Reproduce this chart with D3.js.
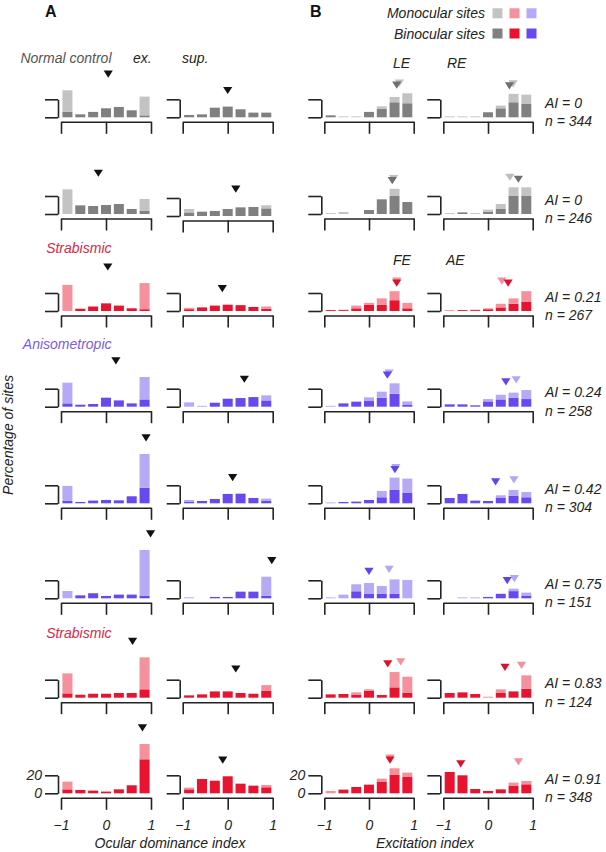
<!DOCTYPE html>
<html><head><meta charset="utf-8">
<script src="https://cdn.jsdelivr.net/npm/d3@7"></script>
<style>
body{margin:0;background:#fff}
svg{display:block}
text{font-family:"Liberation Sans",Arial,Helvetica,sans-serif}
</style>
</head><body>
<svg id="c" width="606" height="852"></svg>
<script>
// ---------- DATA ----------
const bins = [0,1,2,3,4,5,6];              // 7 index bins from -1 to 1
const groups = ["normal","normal","strab","aniso","aniso","aniso","strab","strab"];
const aiValues = ["0","0","0.21","0.24","0.42","0.75","0.83","0.91"];
const nValues = [344,246,267,258,304,151,124,348];
const groupLabels = [{row:0,text:"Normal control",g:"normal"},{row:2,text:"Strabismic",g:"strab"},{row:3,text:"Anisometropic",g:"aniso"},{row:6,text:"Strabismic",g:"strab"}];
const xTickValues = [-1,0,1];
const yTickValues = [0,20];

// percentages of sites, binocular (dark) and monocular (light) parts
const binoEx = [
 [6,3.3,6,10,11.5,7.8,2.2],
 [0,9.6,8.9,10,11.1,5.6,3.3],
 [0,2.5,5,8.5,6,3,2],
 [3.7,2.2,3,10,7,3.7,8.1],
 [2.6,1.5,3,3.7,3.3,7.8,17.4],
 [0,3.3,5.6,2.6,4.1,4.1,3],
 [4.8,3.3,4.4,4.4,5.2,5.2,9.3],
 [4.4,3.7,3,1.9,4.4,8.9,37.8]];
const monoEx = [
 [24,0,0,0,0,0,20.8],
 [27.4,0,0,0,0,0,13.4],
 [29,0,0,0,0,0,29],
 [23,0,0,0,0,0,24.9],
 [16.7,0,0,0,0,0,37.4],
 [8.1,0,0,0,0,0,50.7],
 [22.2,0,0,0,0,0,35.5],
 [8.6,0,0,0,0,0,17]];
const binoSup = [
 [2.6,3.3,10.7,11.9,8.9,5.2,5.2],
 [4,4.8,5.6,7.8,9.6,10,8.5],
 [2,4,6,7,6.5,4.5,2.5],
 [0,0,4.4,8.9,9.6,10.7,7],
 [1.9,2.6,4.8,10.4,10.7,5.9,3],
 [0,0,1.5,1.5,7.4,7.4,2.6],
 [2.6,3.7,7,7,5.2,4.4,7.8],
 [4.4,15.9,14,18.9,10.7,8.5,6.7]];
const monoSup = [
 [0,0,0,0,0,0,0],
 [3.8,0,0,0,0,0,3.4],
 [1.5,0,0,0,0,0,2.5],
 [4.8,1,0,0,0,0,5.6],
 [1.8,0,0,0,0,0,2.2],
 [1.1,0,0,0,0,0,21.4],
 [0,0,0,0,0,0,6.2],
 [1.9,0,0,0,0,0,2.6]];
const binoLE = [
 [2.2,0,0,6,9.6,16.7,15.6],
 [0,0,0,4.4,16.3,20,13.3],
 [1,1,3,7,7,12,3],
 [0,3.7,5.6,6.3,10,14.4,1.9],
 [0,1.5,1.9,3.7,6.7,14.8,11.9],
 [0,0,7.8,4.8,4.8,4.8,0],
 [3.7,4.1,3.3,7.8,3,11.5,5.6],
 [0,4.1,7,9.6,12.6,20.4,18.1]];
const monoLE = [
 [0,1,1,0,2.6,5.9,11.1],
 [1,2.2,0,0,0,8,0],
 [0,0.5,3,2,7,10,6],
 [1,0,0,4.1,6.7,11.6,4],
 [1,0,0,0,7,13.7,15.5],
 [1,4.1,7.8,12.2,8.9,16.2,20.4],
 [0,0,2.6,1.5,0,17,17.7],
 [2.6,0,0,0,3.7,7.4,4.9]];
const binoRE = [
 [0,0,0,5.6,10,16.7,14.8],
 [0,1.8,0,2.6,5.6,20,20],
 [0,1,1,2,4,8,10],
 [2.6,2.6,1.5,5.9,8.1,10,8.5],
 [5.9,10.4,3,2.6,5.9,8.5,6.7],
 [0,0,0,1.5,5,8,2.6],
 [5.2,5.9,4.1,0,5.6,7,10],
 [23.7,20,4.8,2.6,4.4,8.1,10]];
const monoRE = [
 [1,1,1,0,3,9.3,10.4],
 [1,0,1,2.2,5.5,9.6,9.6],
 [1,0,0.5,1,4,6,12],
 [0,0,0,2.6,5.2,5.6,10],
 [0,0,0,0,3,6.3,5.9],
 [0,1,1,0,0,2.7,3.7],
 [0,0,0,1.1,3.7,0,14.8],
 [0,0,0,0,0,3.8,3.7]];
// mean indices (arrows)
const meanEx  = [0.05,-0.17,0.04,0.22,0.89,0.99,0.59,0.81];
const meanSup = [0.0,0.18,-0.12,0.37,0.11,0.98,0.18,-0.11];
const meanLEbino = [0.62,0.52,0.62,0.41,0.58,0.0,0.42,0.47];
const meanLEmono = [0.68,0.55,0.62,0.45,0.60,0.45,0.71,0.47];
const meanREbino = [0.48,0.68,0.45,0.40,0.17,0.43,0.38,-0.61];
const meanREmono = [0.56,0.49,0.31,0.63,0.58,0.59,0.75,0.68];

// ---------- LAYOUT / STYLE ----------
const colors = {
  normal:{mono:"#c3c3c3", bino:"#808080", label:"#555555", arrowB:"#6f6f6f", arrowM:"#bdbdbd"},
  strab:{mono:"#f5909d", bino:"#e8132f", label:"#d52a48", arrowB:"#e0102c", arrowM:"#f3909d"},
  aniso:{mono:"#b6aaf7", bino:"#6849ef", label:"#7b5ce6", arrowB:"#6443ee", arrowM:"#b3a6f6"}
};
const colX0 = [61,182.7,324.3,443.3];
const colW  = [90,90,89.4,89.4];
const rowBase = [117.3,214,311,406.7,503.3,598.3,697.7,793.3];
const FONT = '"Liberation Sans",Arial,Helvetica,sans-serif';
const INK = "#232323";

const svg = d3.select("#c");
const binoSets = [binoEx,binoSup,binoLE,binoRE];
const monoSets = [monoEx,monoSup,monoLE,monoRE];

function tri(g, cx, tip, fill){
  g.append("path")
   .attr("d", `M${cx-4.6},${tip-7.2}L${cx+4.6},${tip-7.2}L${cx},${tip}Z`)
   .attr("fill", fill);
}

for (let r=0;r<8;r++){
  const col = colors[groups[r]];
  for (let c=0;c<4;c++){
    const base = rowBase[r] + (r===1 && c===1 ? 2 : 0);
    const x = d3.scaleLinear().domain([-1,1]).range([colX0[c], colX0[c]+colW[c]]);
    const y = d3.scaleLinear().domain([0,20]).range([base, base-18]);
    const band = d3.scaleBand().domain(bins).range(x.range()).paddingInner(0.22).paddingOuter(0.11);
    const bino = binoSets[c][r], mono = monoSets[c][r];
    const g = svg.append("g");

    // bars: binocular bottom, monocular stacked on top
    g.selectAll("rect.b").data(bins).join("rect")
      .attr("x", i=>band(i)).attr("width", band.bandwidth())
      .attr("y", i=>y(bino[i])).attr("height", i=>y(0)-y(bino[i]))
      .attr("fill", col.bino);
    g.selectAll("rect.m").data(bins).join("rect")
      .attr("x", i=>band(i)).attr("width", band.bandwidth())
      .attr("y", i=>y(bino[i]+mono[i])).attr("height", i=>y(bino[i])-y(bino[i]+mono[i]))
      .attr("fill", col.mono);

    // x axis
    const showX = r===7;
    const xa = g.append("g").attr("transform",`translate(0,${base+4.5})`)
      .call(d3.axisBottom(x).tickValues(xTickValues).tickSize(12).tickSizeOuter(0).tickPadding(10)
        .tickFormat(showX ? d3.format("d") : ""));
    // y bracket
    const showY = r===7 && (c===0 || c===2);
    const ya = g.append("g").attr("transform",`translate(${colX0[c]-3},0)`)
      .call(d3.axisLeft(y).tickValues(yTickValues).tickSize(13).tickSizeOuter(0).tickPadding(3)
        .tickFormat(showY ? d3.format("d") : ""));
    [xa,ya].forEach(a=>{
      a.attr("font-family",FONT).attr("font-size",14);
      a.selectAll(".domain,.tick line").attr("stroke",INK).attr("stroke-width",1.6);
      a.selectAll("text").attr("font-style","italic").attr("fill",INK);
    });

    // arrows
    const maxTot = d3.max(bins, i=>bino[i]+mono[i]);
    if (c<2){
      const m = c===0 ? meanEx[r] : meanSup[r];
      tri(g, x(m), y(maxTot)-12.5, "#111");
    } else {
      const mb = c===2 ? meanLEbino[r] : meanREbino[r];
      const mm = c===2 ? meanLEmono[r] : meanREmono[r];
      const tip = y(maxTot)-4.5;
      tri(g, x(mm), tip-2, col.arrowM);
      tri(g, x(mb), tip, col.arrowB);
    }
  }
  // AI / n
  svg.append("text").attr("x",545).attr("y",rowBase[r]-9.5).attr("font-size",14).attr("font-style","italic")
    .attr("fill",INK).text(`AI = ${aiValues[r]}`);
  svg.append("text").attr("x",545).attr("y",rowBase[r]+9).attr("font-size",14).attr("font-style","italic")
    .attr("fill",INK).text(`n = ${nValues[r]}`);
}

// group labels
const labelY = {0:63, 2:253, 3:349, 6:637.7};
groupLabels.forEach(d=>{
  svg.append("text").attr("x",111.5).attr("y",labelY[d.row]).attr("text-anchor","end")
    .attr("font-size",14).attr("font-style","italic").attr("fill",colors[d.g].label).text(d.text);
});

// column headers
const hdr = [["ex.",133,63],["sup.",182,63],["LE",393,67.5],["RE",447,67.5],["FE",393,265],["AE",446,265]];
hdr.forEach(h=>svg.append("text").attr("x",h[1]).attr("y",h[2]).attr("font-size",14)
  .attr("font-style","italic").attr("fill",INK).text(h[0]));

// panel letters
svg.append("text").attr("x",45).attr("y",16.5).attr("font-size",16).attr("font-weight","bold").attr("fill","#111").text("A");
svg.append("text").attr("x",310).attr("y",16.5).attr("font-size",16).attr("font-weight","bold").attr("fill","#111").text("B");

// legend
const legRows = [{t:"Monocular sites",k:"mono",y:8.3},{t:"Binocular sites",k:"bino",y:28.5}];
const legGroups = ["normal","strab","aniso"];
const legX = [492.5,509.5,526.5];
legRows.forEach(lr=>{
  svg.append("text").attr("x",485).attr("y",lr.y+10).attr("text-anchor","end").attr("font-size",14)
    .attr("font-style","italic").attr("fill",INK).text(lr.t);
  legGroups.forEach((gk,i)=>svg.append("rect").attr("x",legX[i]).attr("y",lr.y).attr("width",10).attr("height",10)
    .attr("fill",colors[gk][lr.k]));
});

// axis titles
svg.append("text").attr("transform","translate(13,435) rotate(-90)").attr("text-anchor","middle")
  .attr("font-size",14).attr("font-style","italic").attr("fill",INK).text("Percentage of sites");
svg.append("text").attr("x",170).attr("y",848).attr("text-anchor","middle")
  .attr("font-size",14).attr("font-style","italic").attr("fill",INK).text("Ocular dominance index");
svg.append("text").attr("x",425).attr("y",848).attr("text-anchor","middle")
  .attr("font-size",14).attr("font-style","italic").attr("fill",INK).text("Excitation index");
</script>
</body></html>
